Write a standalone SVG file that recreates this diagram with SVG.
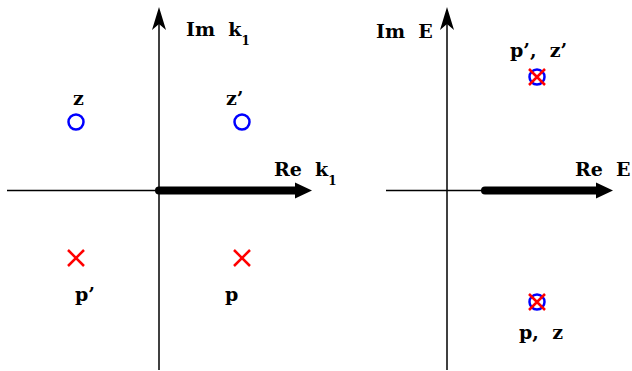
<svg xmlns="http://www.w3.org/2000/svg" width="632" height="371" viewBox="0 0 632 371">
<style>
.ax{stroke:#000;stroke-width:1.5;fill:none}
.th{stroke:#000;stroke-width:8;stroke-linecap:round;fill:none}
.o{stroke:#0000ff;stroke-width:2.5;fill:none}
.x{stroke:#ff0000;stroke-width:2.5;fill:none}
text{font-family:"DejaVu Serif","Liberation Serif",serif;font-weight:bold;font-size:19px;fill:#000;white-space:pre}
.sub{font-size:12px}
</style>
<defs>
<path id="ah" d="M0,0 L7,23 L0,17 L-7,23 Z" fill="#000"/>
<path id="bh" d="M0,0 L-17,-8 L-17,8 Z" fill="#000"/>
</defs>
<g id="connectors">
<line class="ax" x1="159" y1="20" x2="159" y2="370"/>
<use href="#ah" x="159" y="7"/>
<line class="ax" x1="7" y1="190.5" x2="159" y2="190.5"/>
<line class="th" x1="159" y1="190.5" x2="297" y2="190.5"/>
<use href="#bh" x="312" y="190.5"/>
<line class="ax" x1="447" y1="20" x2="447" y2="370"/>
<use href="#ah" x="447" y="7"/>
<line class="ax" x1="386" y1="190.5" x2="485" y2="190.5"/>
<line class="th" x1="485" y1="190.5" x2="598" y2="190.5"/>
<use href="#bh" x="613" y="190.5"/>
</g>
<g id="labels">
<text x="186" y="36" xml:space="preserve">Im  k<tspan class="sub" dy="9">1</tspan></text>
<text x="274" y="176" xml:space="preserve">Re  k<tspan class="sub" dy="9">1</tspan></text>
<text x="376" y="38" xml:space="preserve">Im  E</text>
<text x="575" y="176" xml:space="preserve">Re  E</text>
</g>
<g id="z">
<circle class="o" cx="76" cy="122" r="7.5"/>
<text x="73" y="105">z</text>
</g>
<g id="zp">
<circle class="o" cx="242" cy="122" r="7.5"/>
<text x="226" y="105">z’</text>
</g>
<g id="pp">
<path class="x" d="M68,250 L84,266 M84,250 L68,266"/>
<text x="75" y="301">p’</text>
</g>
<g id="p">
<path class="x" d="M234,250 L250,266 M250,250 L234,266"/>
<text x="225" y="301">p</text>
</g>
<g id="pz_upper">
<circle class="o" cx="537" cy="77" r="7.5"/>
<path class="x" d="M529,69 L545,85 M545,69 L529,85"/>
<text x="510" y="57" xml:space="preserve">p’,  z’</text>
</g>
<g id="pz_lower">
<circle class="o" cx="537" cy="302" r="7.5"/>
<path class="x" d="M529,294 L545,310 M545,294 L529,310"/>
<text x="519" y="339" xml:space="preserve">p,  z</text>
</g>
</svg>
